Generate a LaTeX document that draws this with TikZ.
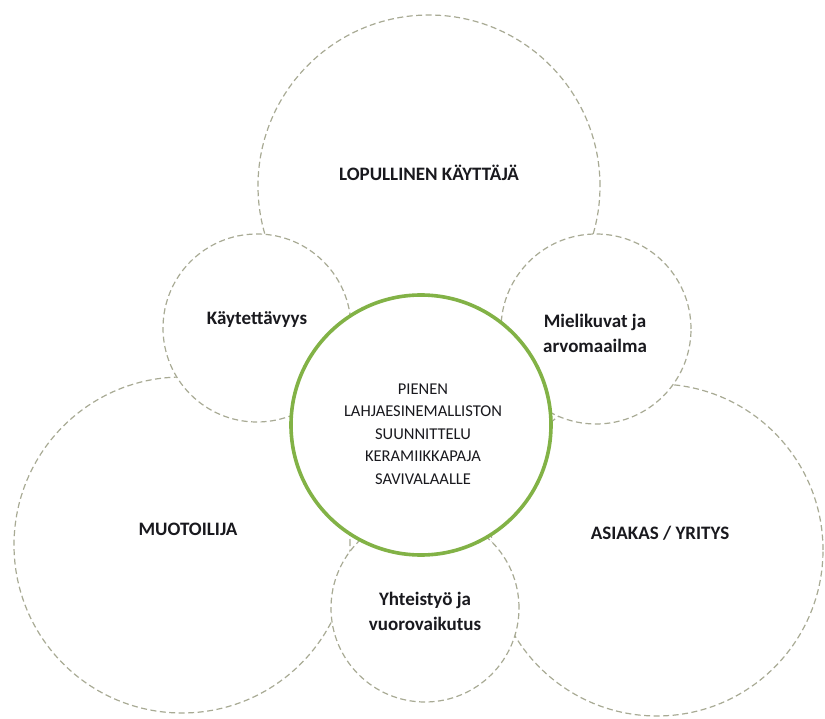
\documentclass[tikz,border=0pt]{standalone}
\usepackage{fontspec}
\setmainfont{Carlito}
\definecolor{ringgreen}{RGB}{130, 178, 70}
\definecolor{dashgray}{RGB}{168, 170, 148}
\definecolor{labelblack}{RGB}{25, 25, 30}
\usetikzlibrary{shapes, positioning, calc}

\begin{document}
\begin{tikzpicture}[x=1pt, y=-1pt,
  ring/.style={circle, draw=dashgray, fill=white, line width=1.2pt, dash pattern=on 6pt off 3.5pt, inner sep=0pt},
  corering/.style={circle, draw=ringgreen, fill=white, line width=3.6pt, inner sep=0pt},
  lbl/.style={align=center, text=labelblack, font=\fontsize{19}{25}\selectfont\bfseries},
  corelbl/.style={align=center, text=labelblack, font=\fontsize{16.5}{22.5}\selectfont}]
  \useasboundingbox (0,0) rectangle (825,719);

  % Stakeholder circles
  \node[ring, minimum size=342pt] (user) at (429,186) {};
  \node[ring, minimum size=336pt] (designer) at (182,545) {};
  \node[ring, minimum size=332pt] (client) at (657,550) {};

  % Shared themes
  \node[ring, minimum size=188pt] (usability) at (257,328) {};
  \node[ring, minimum size=190pt] (image) at (596,329) {};
  \node[ring, minimum size=188pt] (cooperation) at (425,608) {};

  % Core
  \node[corering, minimum size=260pt] (core) at (421,425) {};

  \node[lbl] (userlbl) at (429,173) {LOPULLINEN KÄYTTÄJÄ};
  \node[lbl] (designerlbl) at (188,529) {MUOTOILIJA};
  \node[lbl] (clientlbl) at (660,533) {ASIAKAS / YRITYS};
  \node[lbl] (usabilitylbl) at (257,320) {Käytettävyys};
  \node[lbl] (imagelbl) at (595,333) {Mielikuvat ja\\arvomaailma};
  \node[lbl] (cooperationlbl) at (425,611) {Yhteistyö ja\\vuorovaikutus};
  \node[corelbl] (corelbl) at (423,434) {PIENEN\\LAHJAESINEMALLISTON\\SUUNNITTELU\\KERAMIIKKAPAJA\\SAVIVALAALLE};
\end{tikzpicture}
\end{document}
